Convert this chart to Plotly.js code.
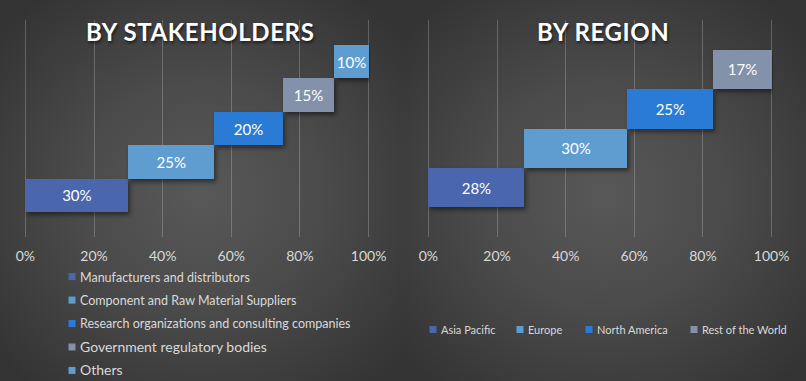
<!DOCTYPE html>
<html>
<head>
<meta charset="utf-8">
<script src="https://cdn.plot.ly/plotly-3.0.1.min.js"></script>
<style>
html,body{margin:0;padding:0;}
body{width:806px;height:381px;overflow:hidden;
background:
 radial-gradient(ellipse 270px 250px at 201px 195px, #585858 0%, #4b4b4b 45%, #333333 100%) 0 0/403px 381px no-repeat,
 radial-gradient(ellipse 270px 250px at 201px 195px, #585858 0%, #4b4b4b 45%, #333333 100%) 403px 0/403px 381px no-repeat,
 #333;}
#chart{width:806px;height:381px;}
.legendpoints path{d:path('M15.5,3.5H8.5V-3.5H15.5Z');}
.annotation-text{text-shadow:1px 2px 3px rgba(0,0,0,0.6);letter-spacing:0.6px;}
.bars .point path{filter:drop-shadow(2px 3px 2px rgba(0,0,0,0.45));}
</style>
</head>
<body>
<div id="chart"></div>
<script>
// ---- data ----
var stakeholderCategories = ['Manufacturers and distributors','Component and Raw Material Suppliers','Research organizations and consulting companies','Government regulatory bodies','Others'];
var stakeholderValues = [30, 25, 20, 15, 10];
var regionCategories = ['Asia Pacific','Europe','North America','Rest of the World'];
var regionValues = [28, 30, 25, 17];
var tickValues = [0, 20, 40, 60, 80, 100];
var tickLabels = ['0%','20%','40%','60%','80%','100%'];

// ---- styles ----
var stakeColors = ['#4a66ac','#5f9dd0','#2a7bd6','#8391ab','#5f9dd0'];
var regionColors = ['#4a66ac','#5f9dd0','#2a7bd6','#8391ab'];
var FONT = 'Lato, "Noto Sans", sans-serif';
var stakeLegendSize = [12.5,12.5,12.5,14,14];
var regionLegendX = [401, 488, 557, 662];   // pixel positions of the region legend entries

var traces = [];
var cum = 0;
stakeholderCategories.forEach(function(c,i){
  traces.push({
    type:'bar', orientation:'h',
    y:[c], x:[stakeholderValues[i]], base:[cum],
    name:'<span style="font-size:'+stakeLegendSize[i]+'px">'+c+'</span>',
    legendgroup:'s'+i,
    marker:{color:stakeColors[i]},
    text:[stakeholderValues[i]+'%'], textposition:'inside', insidetextanchor:'middle',
    textangle:0, constraintext:'none',
    textfont:{color:'#ffffff', size:15, family:FONT},
    xaxis:'x', yaxis:'y', legend:'legend', hoverinfo:'skip'
  });
  cum += stakeholderValues[i];
});

var ydom = [1-237/381, 1-20/381];
var layout = {
  width:806, height:381,
  margin:{l:0,r:0,t:0,b:0, autoexpand:false},
  paper_bgcolor:'rgba(0,0,0,0)', plot_bgcolor:'rgba(0,0,0,0)',
  barmode:'overlay', bargap:0,
  showlegend:true,
  legend:{x:40/806, y:1-262/381, xanchor:'left', yanchor:'top', orientation:'v',
          bgcolor:'rgba(0,0,0,0)', font:{color:'#d9d9d9', size:12.5, family:FONT},
          tracegroupgap:4.2, traceorder:'grouped'},
  annotations:[
    {text:'<b>BY STAKEHOLDERS</b>', xref:'paper', yref:'paper', x:200/806, y:1-31/381,
     xanchor:'center', yanchor:'middle', showarrow:false,
     font:{color:'#ffffff', size:24, family:FONT}},
    {text:'<b>BY REGION</b>', xref:'paper', yref:'paper', x:603/806, y:1-31/381,
     xanchor:'center', yanchor:'middle', showarrow:false,
     font:{color:'#ffffff', size:24, family:FONT}}
  ]
};

cum = 0;
regionCategories.forEach(function(c,i){
  var lg = 'legend' + (i+2);
  traces.push({
    type:'bar', orientation:'h',
    y:[c], x:[regionValues[i]], base:[cum],
    name:c,
    marker:{color:regionColors[i]},
    text:[regionValues[i]+'%'], textposition:'inside', insidetextanchor:'middle',
    textangle:0, constraintext:'none',
    textfont:{color:'#ffffff', size:15, family:FONT},
    xaxis:'x2', yaxis:'y2', legend:lg, hoverinfo:'skip'
  });
  layout[lg] = {x:regionLegendX[i]/806, y:1-315/381, xanchor:'left', yanchor:'top', orientation:'h',
          bgcolor:'rgba(0,0,0,0)', font:{color:'#d9d9d9', size:11, family:FONT}};
  cum += regionValues[i];
});

var xax = {
  range:[-0.4,100.4], tickvals:tickValues, ticktext:tickLabels,
  showgrid:true, gridcolor:'rgba(255,255,255,0.22)', gridwidth:1,
  zeroline:false, showline:false, ticks:'',
  tickfont:{color:'#d9d9d9', size:14, family:FONT},
  ticklabelstandoff:9, fixedrange:true
};
layout.xaxis = Object.assign({}, xax, {domain:[24/806, 370/806], anchor:'y'});
layout.xaxis2 = Object.assign({}, xax, {domain:[427/806, 773/806], anchor:'y2'});
layout.yaxis = {domain:ydom, type:'category', categoryarray:stakeholderCategories, categoryorder:'array',
         range:[-1.25, stakeholderCategories.length-1+1.25], visible:false, anchor:'x', fixedrange:true};
layout.yaxis2 = {domain:ydom, type:'category', categoryarray:regionCategories, categoryorder:'array',
         range:[-1.25, regionCategories.length-1+1.25], visible:false, anchor:'x2', fixedrange:true};

Plotly.newPlot('chart', traces, layout, {staticPlot:true, displayModeBar:false});
</script>
</body>
</html>
